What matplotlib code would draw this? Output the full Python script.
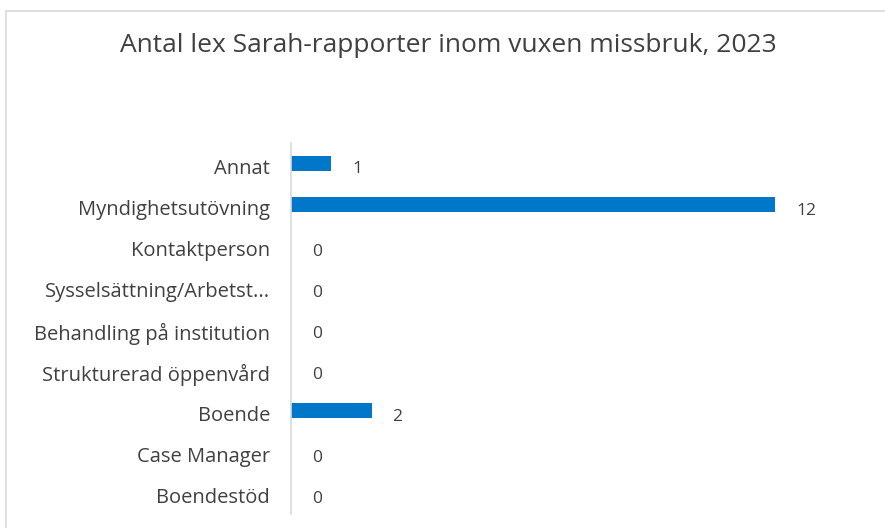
import matplotlib
matplotlib.use("Agg")
import matplotlib.pyplot as plt
from matplotlib.patches import Rectangle
from matplotlib.transforms import ScaledTranslation

categories = ["Annat", "Myndighetsutövning", "Kontaktperson", "Sysselsättning/Arbetst...",
              "Behandling på institution", "Strukturerad öppenvård", "Boende",
              "Case Manager", "Boendestöd"]
values = [1, 12, 0, 0, 0, 0, 2, 0, 0]
title = "Antal lex Sarah-rapporter inom vuxen missbruk, 2023"

plt.rcParams['font.family'] = ['Open Sans', 'DejaVu Sans']
W, H = 885, 528
fig = plt.figure(figsize=(W/100, H/100), dpi=100)
fig.patch.set_facecolor("white")

fig.add_artist(Rectangle((6/W, -0.05), 1.1, 1 - 11/H + 0.05, transform=fig.transFigure,
                         fill=False, edgecolor="#d9d9d9", linewidth=1.2))

left, right = 291, 856
top, bottom = 142.5, 513.5
ax = fig.add_axes([left/W, 1 - bottom/H, (right-left)/W, (bottom-top)/H])

ypos = list(range(len(categories)))
ax.barh(ypos, values, height=0.36, color="#0077C8")
ax.set_ylim(len(categories) - 0.5, -0.5)
ax.set_xlim(0, 14)
ax.set_yticks(ypos)
ax.set_yticklabels(categories, fontsize=14.5, color="#404040")
ax.tick_params(axis='y', length=0, pad=15)
shift = ScaledTranslation(0, -3/100, fig.dpi_scale_trans)
for lab in ax.get_yticklabels():
    lab.set_transform(lab.get_transform() + shift)
ax.set_xticks([])
for s in ["top", "right", "bottom"]:
    ax.spines[s].set_visible(False)
ax.spines["left"].set_color("#d9d9d9")
ax.spines["left"].set_linewidth(1.2)

for y, v in zip(ypos, values):
    ax.annotate(str(v), (v, y), xytext=(15, -4.5), textcoords="offset points",
                va="center", ha="left", fontsize=12.5, color="#404040")

fig.text(448/W, 1 - 46/H, title, ha="center", va="center", fontsize=19, color="#404040")

fig.savefig("out.png", dpi=100, facecolor="white")
